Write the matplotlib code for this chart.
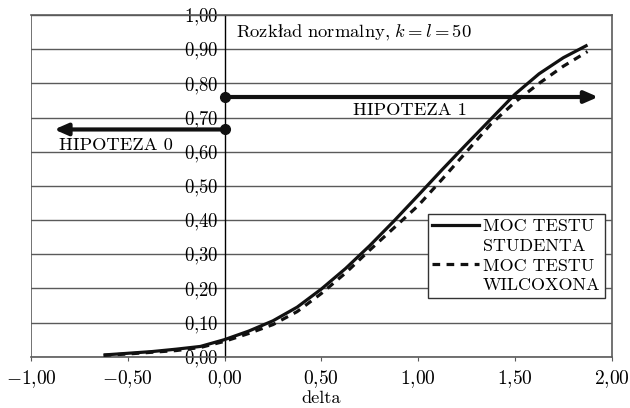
import matplotlib
matplotlib.use("Agg")
import matplotlib.pyplot as plt
from matplotlib.lines import Line2D

plt.rcParams['mathtext.fontset'] = 'cm'
plt.rcParams['font.family'] = ['cmr10', 'DejaVu Serif']
plt.rcParams['axes.formatter.use_mathtext'] = True

delta = [-0.625, -0.5, -0.375, -0.25, -0.125, 0.0, 0.125, 0.25, 0.375, 0.5, 0.625,
         0.75, 0.875, 1.0, 1.125, 1.25, 1.375, 1.5, 1.625, 1.75, 1.875]
student = [0.005, 0.010, 0.015, 0.022, 0.030, 0.050, 0.075, 0.105, 0.145, 0.198, 0.258,
           0.325, 0.397, 0.472, 0.548, 0.622, 0.695, 0.768, 0.828, 0.875, 0.912]
wilcoxon = [0.004, 0.008, 0.013, 0.018, 0.027, 0.045, 0.068, 0.094, 0.132, 0.185, 0.245,
            0.312, 0.377, 0.442, 0.520, 0.600, 0.680, 0.745, 0.800, 0.850, 0.893]

xticks = [-1.0, -0.5, 0.0, 0.5, 1.0, 1.5, 2.0]
yticks = [0.0, 0.1, 0.2, 0.3, 0.4, 0.5, 0.6, 0.7, 0.8, 0.9, 1.0]

h0_level = 0.665
h1_level = 0.76
h0_end = -0.88
h1_end = 1.93

title_text = r"$\mathrm{Rozkład\ normalny{,}}\ k=l=50$"
label_h0 = "HIPOTEZA 0"
label_h1 = "HIPOTEZA 1"
legend_lines = ["MOC TESTU", "STUDENTA", "MOC TESTU", "WILCOXONA"]
xlabel = "delta"

def fmt(v):
    s = f"{abs(v):.2f}".replace(".", "{,}")
    return f"$-{s}$" if v < 0 else f"${s}$"

fig = plt.figure(figsize=(6.3, 4.08), dpi=100)
ax = fig.add_axes([31/630, 1 - 356.7/408, (611.7-31)/630, (356.7-15)/408])
ax.set_xlim(-1.0, 2.0)
ax.set_ylim(0.0, 1.0)

gc = '#5a5a5a'
for y in yticks:
    ax.axhline(y, color=gc, lw=1.0, zorder=1)
ax.axvline(-1.0, color=gc, lw=1.2, zorder=1)

ax.spines['left'].set_position(('data', 0))
ax.spines['left'].set_color('black')
ax.spines['left'].set_linewidth(1.0)
for s in ['top', 'right', 'bottom']:
    ax.spines[s].set_color(gc)
    ax.spines[s].set_linewidth(1.2)

ax.set_xticks(xticks)
ax.set_xticklabels([fmt(v) for v in xticks], fontsize=14)
ax.set_yticks(yticks)
ax.set_yticklabels([fmt(v) for v in yticks], fontsize=13.5)
ax.tick_params(axis='x', direction='out', length=3, color=gc, pad=5)
ax.tick_params(axis='y', length=0, pad=4)
ax.set_xlabel(xlabel, fontsize=13.2, labelpad=0.5)

dash = (0, (2.4, 2.0))
ax.plot(delta, student, color='#111111', lw=2.3, zorder=4, solid_capstyle='butt')
ax.plot(delta, wilcoxon, color='#111111', lw=2.3, ls=dash, zorder=4)

ax.annotate('', xy=(h1_end, h1_level), xytext=(0, h1_level),
            arrowprops=dict(arrowstyle='-|>,head_length=0.8,head_width=0.35',
                            lw=3, color='#111111', shrinkA=0, shrinkB=0), zorder=5)
ax.annotate('', xy=(h0_end, h0_level), xytext=(0, h0_level),
            arrowprops=dict(arrowstyle='-|>,head_length=0.8,head_width=0.35',
                            lw=3, color='#111111', shrinkA=0, shrinkB=0), zorder=5)
ax.plot([0, 0], [h0_level, h1_level], 'o', color='#111111', ms=7, zorder=6, clip_on=False)

ax.text(0.96, 0.722, label_h1, fontsize=13.3, ha='center', va='center', zorder=6)
ax.text(-0.855, 0.62, label_h0, fontsize=13.3, ha='left', va='center', zorder=6)
ax.text(0.06, 0.95, title_text, fontsize=13.4, ha='left', va='center', zorder=6)

handles = [Line2D([], [], color='#111111', lw=2.3),
           Line2D([], [], linestyle='none'),
           Line2D([], [], color='#111111', lw=2.3, ls=dash),
           Line2D([], [], linestyle='none')]
leg = ax.legend(handles, legend_lines, loc='lower right', bbox_to_anchor=(0.988, 0.172),
                fontsize=13, frameon=True, fancybox=False, edgecolor='#333333',
                framealpha=1, handlelength=2.6, handletextpad=0.2, labelspacing=0.23,
                borderpad=0.25, borderaxespad=0)
leg.get_frame().set_linewidth(1.0)
leg.set_zorder(7)

fig.savefig("out.png", dpi=100)
